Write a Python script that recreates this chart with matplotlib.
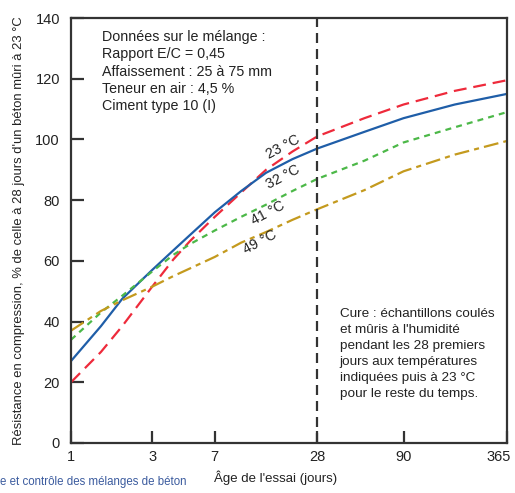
import matplotlib.pyplot as plt
from matplotlib.ticker import FixedLocator, NullLocator
from matplotlib.transforms import ScaledTranslation

plt.rcParams['font.family'] = ['Liberation Sans', 'DejaVu Sans']

# age of test (days) and strength (% of 28-day strength cured at 23 C)
ages = [1, 1.5, 2, 3, 4, 5, 7, 10, 14, 20, 28, 53, 90, 180, 365]
t23 = [20, 30, 38.5, 51.5, 60.5, 66.5, 74.5, 82.5, 90, 96, 101, 107, 111.5, 116, 119.5]
t32 = [27, 38.5, 47.5, 57, 63.5, 68.5, 76, 83, 89, 93.5, 97, 102.5, 107, 111.5, 115]
t41 = [34, 43, 48.5, 56.5, 62, 65.5, 70, 74.5, 78.5, 83, 87, 93, 99, 104, 109]
t49 = [37, 43.5, 47, 51.5, 55, 57.5, 61.3, 66, 69.5, 73.5, 77, 83.3, 89.5, 95, 99.5]

xticks = [1, 3, 7, 28, 90, 365]
yticks = [0, 20, 40, 60, 80, 100, 120, 140]

fig = plt.figure(figsize=(5.15, 4.93), dpi=100)
ax = fig.add_axes([71 / 515, 50 / 493, 436 / 515, 425 / 493])

ax.plot(ages, t23, color='#ee2a3b', lw=1.6, dashes=(5.8, 3.1))
ax.plot(ages, t32, color='#1f5ea8', lw=1.6)
ax.plot(ages, t41, color='#4cb848', lw=1.6, dashes=(2.7, 2.3))
ax.plot(ages, t49, color='#c49a1e', lw=1.6, dashes=(6.7, 2.3, 2.3, 2.3))
ax.axvline(28, color='#333333', lw=1.6, dashes=(4.5, 2.7))

ax.set_xscale('log')
ax.set_xlim(1, 365)
ax.set_ylim(0, 140)
ax.xaxis.set_major_locator(FixedLocator(xticks))
ax.xaxis.set_minor_locator(NullLocator())
ax.set_xticklabels([str(t) for t in xticks])
ax.set_yticks(yticks)

for s in ax.spines.values():
    s.set_color('#333333')
    s.set_linewidth(1.6)
ax.tick_params(direction='in', length=9, width=1.6, color='#333333',
               labelsize=10.5, labelcolor='#222222')
ax.tick_params(axis='y', pad=8)
ax.tick_params(axis='x', pad=5)
last = ax.get_xticklabels()[-1]
last.set_transform(last.get_transform() + ScaledTranslation(-6 / 72, 0, fig.dpi_scale_trans))

ax.set_ylabel("Résistance en compression, % de celle à 28 jours d'un béton mûri à 23 °C",
              fontsize=9.4, color='#222222')
ax.yaxis.set_label_coords(-46 / 436, 0.5)
ax.set_xlabel("Âge de l'essai (jours)", fontsize=9.5, color='#222222')
ax.xaxis.set_label_coords(0.47, -0.065)

ax.text(1.52, 136, "Données sur le mélange :\nRapport E/C = 0,45\nAffaissement : 25 à 75 mm\n"
        "Teneur en air : 4,5 %\nCiment type 10 (I)",
        fontsize=10.3, color='#222222', va='top', ha='left', linespacing=1.3)

ax.text(38, 44.5, "Cure : échantillons coulés\net mûris à l'humidité\npendant les 28 premiers\n"
        "jours aux températures\nindiquées puis à 23 °C\npour le reste du temps.",
        fontsize=9.7, color='#222222', va='top', ha='left', linespacing=1.45)

for lab, x, y in [("23 °C", 17.6, 97.5), ("32 °C", 17.6, 87.5),
                  ("41 °C", 14.4, 75.8), ("49 °C", 12.9, 66.2)]:
    ax.text(x, y, lab, fontsize=10.3, color='#222222', rotation=28,
            ha='center', va='center', rotation_mode='anchor')

fig.text(0.0, 1 - 482 / 493, "e et contrôle des mélanges de béton", fontsize=8.3,
         color='#3b5b9e', ha='left', va='center')

fig.savefig('out.png', dpi=100)
